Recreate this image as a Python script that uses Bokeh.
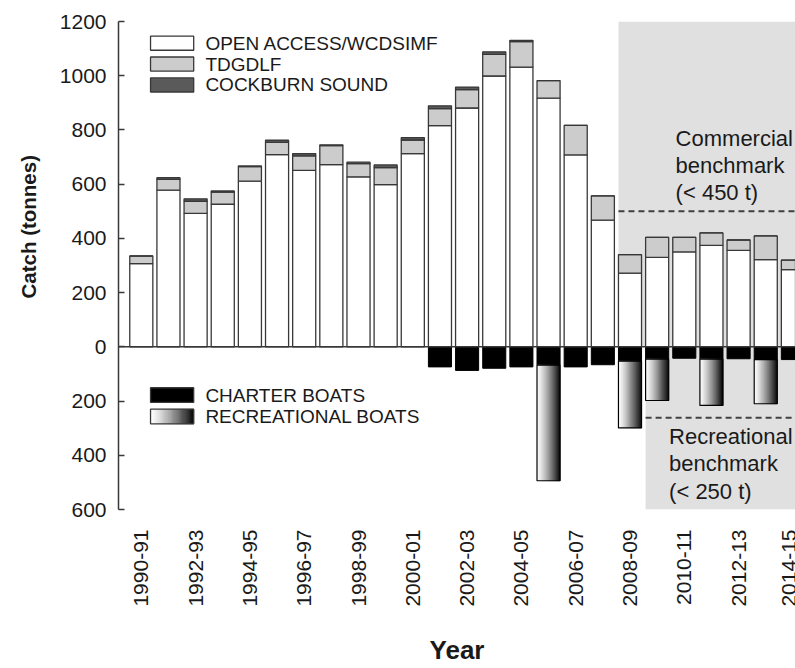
import math
from bokeh.plotting import figure
from bokeh.models import ColumnDataSource, Range1d, FixedTicker, Span, BoxAnnotation, Title
from bokeh.core.properties import value
from bokeh.embed import file_html
from bokeh.resources import INLINE

# ---------------- data ----------------
years = ["1990-91", "1991-92", "1992-93", "1993-94", "1994-95", "1995-96", "1996-97",
         "1997-98", "1998-99", "1999-00", "2000-01", "2001-02", "2002-03", "2003-04",
         "2004-05", "2005-06", "2006-07", "2007-08", "2008-09", "2009-10", "2010-11",
         "2011-12", "2012-13", "2013-14", "2014-15"]
open_access = [307, 578, 492, 526, 611, 709, 651, 672, 627, 598, 713, 816, 881, 999,
               1032, 917, 708, 467, 272, 330, 350, 374, 356, 322, 285]
tdgdlf = [28, 40, 45, 45, 54, 45, 53, 70, 49, 63, 50, 63, 68, 80,
          94, 65, 109, 90, 68, 74, 54, 46, 38, 87, 35]
cockburn = [0, 6, 9, 4, 2, 8, 9, 3, 5, 10, 9, 10, 9, 9,
            4, 0, 0, 0, 0, 0, 0, 0, 0, 0, 0]
charter = [0, 0, 0, 0, 0, 0, 0, 0, 0, 0, 0, 74, 87, 79,
           74, 68, 74, 66, 53, 45, 42, 45, 44, 47, 47]
recreational = [0, 0, 0, 0, 0, 0, 0, 0, 0, 0, 0, 0, 0, 0,
                0, 426, 0, 0, 246, 153, 0, 171, 0, 163, 0]

commercial_benchmark_line = 500
recreational_benchmark_line = -262
benchmark_start_year = "2008-09"
commercial_text = ["Commercial", "benchmark", "(< 450 t)"]
recreational_text = ["Recreational", "benchmark", "(< 250 t)"]
legend_top = ["OPEN ACCESS/WCDSIMF", "TDGDLF", "COCKBURN SOUND"]
legend_bottom = ["CHARTER BOATS", "RECREATIONAL BOATS"]
y_ticks = list(range(-600, 1201, 200))

# ---------------- style ----------------
FONT = "Liberation Sans"
TXT = "#1a1a1a"
EDGE = "#383838"
BAR_W = 0.85
N_SLICES = 24
C_OA, C_TD, C_CS = "white", "#cccccc", "#5a5a5a"
SHADE = "#e0e0e0"

def grad(t):
    v = int(round(255 * (1 - t ** 1.3)))
    v = max(0, min(255, v))
    return "#%02x%02x%02x" % (v, v, v)

xs = list(range(len(years)))
p = figure(width=795, height=668, output_backend="svg", toolbar_location=None,
           x_range=Range1d(-0.84, 24.096), y_range=Range1d(-600, 1200),
           min_border_left=118, min_border_right=0, min_border_top=21, min_border_bottom=159)
p.outline_line_color = None
p.xgrid.visible = False
p.ygrid.visible = False

# shaded benchmark regions
bi = years.index(benchmark_start_year)
p.add_layout(BoxAnnotation(left=bi - BAR_W / 2, bottom=0, fill_color=SHADE, fill_alpha=1,
                           line_color=None, level="underlay"))
p.add_layout(BoxAnnotation(left=bi + 1 - BAR_W / 2, top=0, fill_color=SHADE, fill_alpha=1,
                           line_color=None, level="underlay"))

# commercial stacked bars
src = ColumnDataSource(dict(x=xs, oa=open_access, td=tdgdlf, cs=cockburn))
p.vbar_stack(["oa", "td", "cs"], x="x", width=BAR_W, source=src,
             fill_color=[C_OA, C_TD, C_CS], line_color=EDGE, line_width=1.3)

# charter boats (negative)
cx = [x for x, c in zip(xs, charter) if c > 0]
ct = [-c for c in charter if c > 0]
p.vbar(x=cx, top=0, bottom=ct, width=BAR_W, fill_color="black", line_color="black", line_width=1)

# recreational boats (gradient, stacked below charter)
ql, qr, qt, qb, qc = [], [], [], [], []
rx, rt, rb = [], [], []
for x, c, r in zip(xs, charter, recreational):
    if r <= 0:
        continue
    left = x - BAR_W / 2
    for k in range(N_SLICES):
        ql.append(left + BAR_W * k / N_SLICES)
        qr.append(left + BAR_W * (k + 1) / N_SLICES)
        qt.append(-c)
        qb.append(-c - r)
        qc.append(grad((k + 0.5) / N_SLICES))
    rx.append(x); rt.append(-c); rb.append(-c - r)
p.quad(left=ql, right=qr, top=qt, bottom=qb, fill_color=qc, line_color=qc, line_width=0.5)
p.vbar(x=rx, top=rt, bottom=rb, width=BAR_W, fill_color=None, line_color="black", line_width=1.2)

# zero line
p.add_layout(Span(location=0, dimension="width", line_color=EDGE, line_width=1.5))

# benchmark lines
x_end = len(years) + 1
p.segment(x0=[bi - BAR_W / 2], y0=[commercial_benchmark_line], x1=[x_end], y1=[commercial_benchmark_line],
          line_color="#404040", line_width=2, line_dash="6 4")
p.segment(x0=[bi + 1 - BAR_W / 2], y0=[recreational_benchmark_line], x1=[x_end], y1=[recreational_benchmark_line],
          line_color="#404040", line_width=2, line_dash="6 4")

p.text(x=[19.68] * 3, y=[770, 669, 567.5], text=commercial_text, text_font=value(FONT),
       text_font_size="22px", text_baseline="middle", text_align="left", text_color=TXT)
p.text(x=[19.44] * 3, y=[-330, -431, -532], text=recreational_text, text_font=value(FONT),
       text_font_size="22px", text_baseline="middle", text_align="left", text_color=TXT)

# legends (drawn manually)
LX0, LX1, LTX = 0.34, 1.93, 2.36
top_rows = [1120, 1043, 966]
p.quad(left=[LX0] * 3, right=[LX1] * 3, top=[y + 26 for y in top_rows], bottom=[y - 26 for y in top_rows],
       fill_color=[C_OA, C_TD, C_CS], line_color=EDGE, line_width=1.3)
p.text(x=[LTX] * 3, y=top_rows, text=legend_top, text_font=value(FONT), text_font_size="19px",
       text_baseline="middle", text_color=TXT)
bot_rows = [-178, -257]
p.quad(left=[LX0], right=[LX1], top=[bot_rows[0] + 27], bottom=[bot_rows[0] - 27],
       fill_color="black", line_color=EDGE, line_width=1.3)
gl, gr, gc = [], [], []
for k in range(N_SLICES * 2):
    gl.append(LX0 + (LX1 - LX0) * k / (N_SLICES * 2))
    gr.append(LX0 + (LX1 - LX0) * (k + 1) / (N_SLICES * 2))
    gc.append(grad((k + 0.5) / (N_SLICES * 2)))
p.quad(left=gl, right=gr, top=bot_rows[1] + 27, bottom=bot_rows[1] - 27, fill_color=gc, line_color=gc, line_width=0.5)
p.quad(left=[LX0], right=[LX1], top=[bot_rows[1] + 27], bottom=[bot_rows[1] - 27],
       fill_color=None, line_color=EDGE, line_width=1.3)
p.text(x=[LTX] * 2, y=bot_rows, text=legend_bottom, text_font=value(FONT), text_font_size="19px",
       text_baseline="middle", text_color=TXT)

# axes
p.yaxis.ticker = FixedTicker(ticks=y_ticks)
p.yaxis.major_label_overrides = {t: str(abs(t)) for t in y_ticks if t < 0}
p.yaxis.major_tick_in = 6
p.yaxis.major_tick_out = 0
p.yaxis.minor_tick_line_color = None
p.yaxis.axis_line_color = EDGE
p.yaxis.axis_line_width = 1.5
p.yaxis.major_tick_line_color = EDGE
p.yaxis.major_tick_line_width = 1.5
p.yaxis.major_label_text_font = FONT
p.yaxis.major_label_text_font_size = "21px"
p.yaxis.major_label_text_color = TXT
p.yaxis.major_label_standoff = 12

p.xaxis.ticker = FixedTicker(ticks=list(range(0, len(years), 2)))
p.xaxis.major_label_overrides = {i: years[i] for i in range(0, len(years), 2)}
p.xaxis.major_label_orientation = math.pi / 2
p.xaxis.axis_line_color = None
p.xaxis.major_tick_line_color = None
p.xaxis.minor_tick_line_color = None
p.xaxis.major_label_text_font = FONT
p.xaxis.major_label_text_font_size = "21px"
p.xaxis.major_label_text_color = TXT
p.xaxis.major_label_standoff = 14
p.xaxis.axis_label = "Year"
p.xaxis.axis_label_text_font = FONT
p.xaxis.axis_label_text_font_size = "26px"
p.xaxis.axis_label_text_font_style = "bold"
p.xaxis.axis_label_text_color = TXT
p.xaxis.axis_label_standoff = 25

# y axis title as a side title, so it can sit where the reference puts it
p.add_layout(Title(text="Catch (tonnes)", align="left", offset=211, standoff=30,
                   vertical_align="top",
                   text_font=FONT, text_font_size="20.5px", text_font_style="bold",
                   text_color=TXT), "left")

open("out.html", "w").write(file_html(p, INLINE))
